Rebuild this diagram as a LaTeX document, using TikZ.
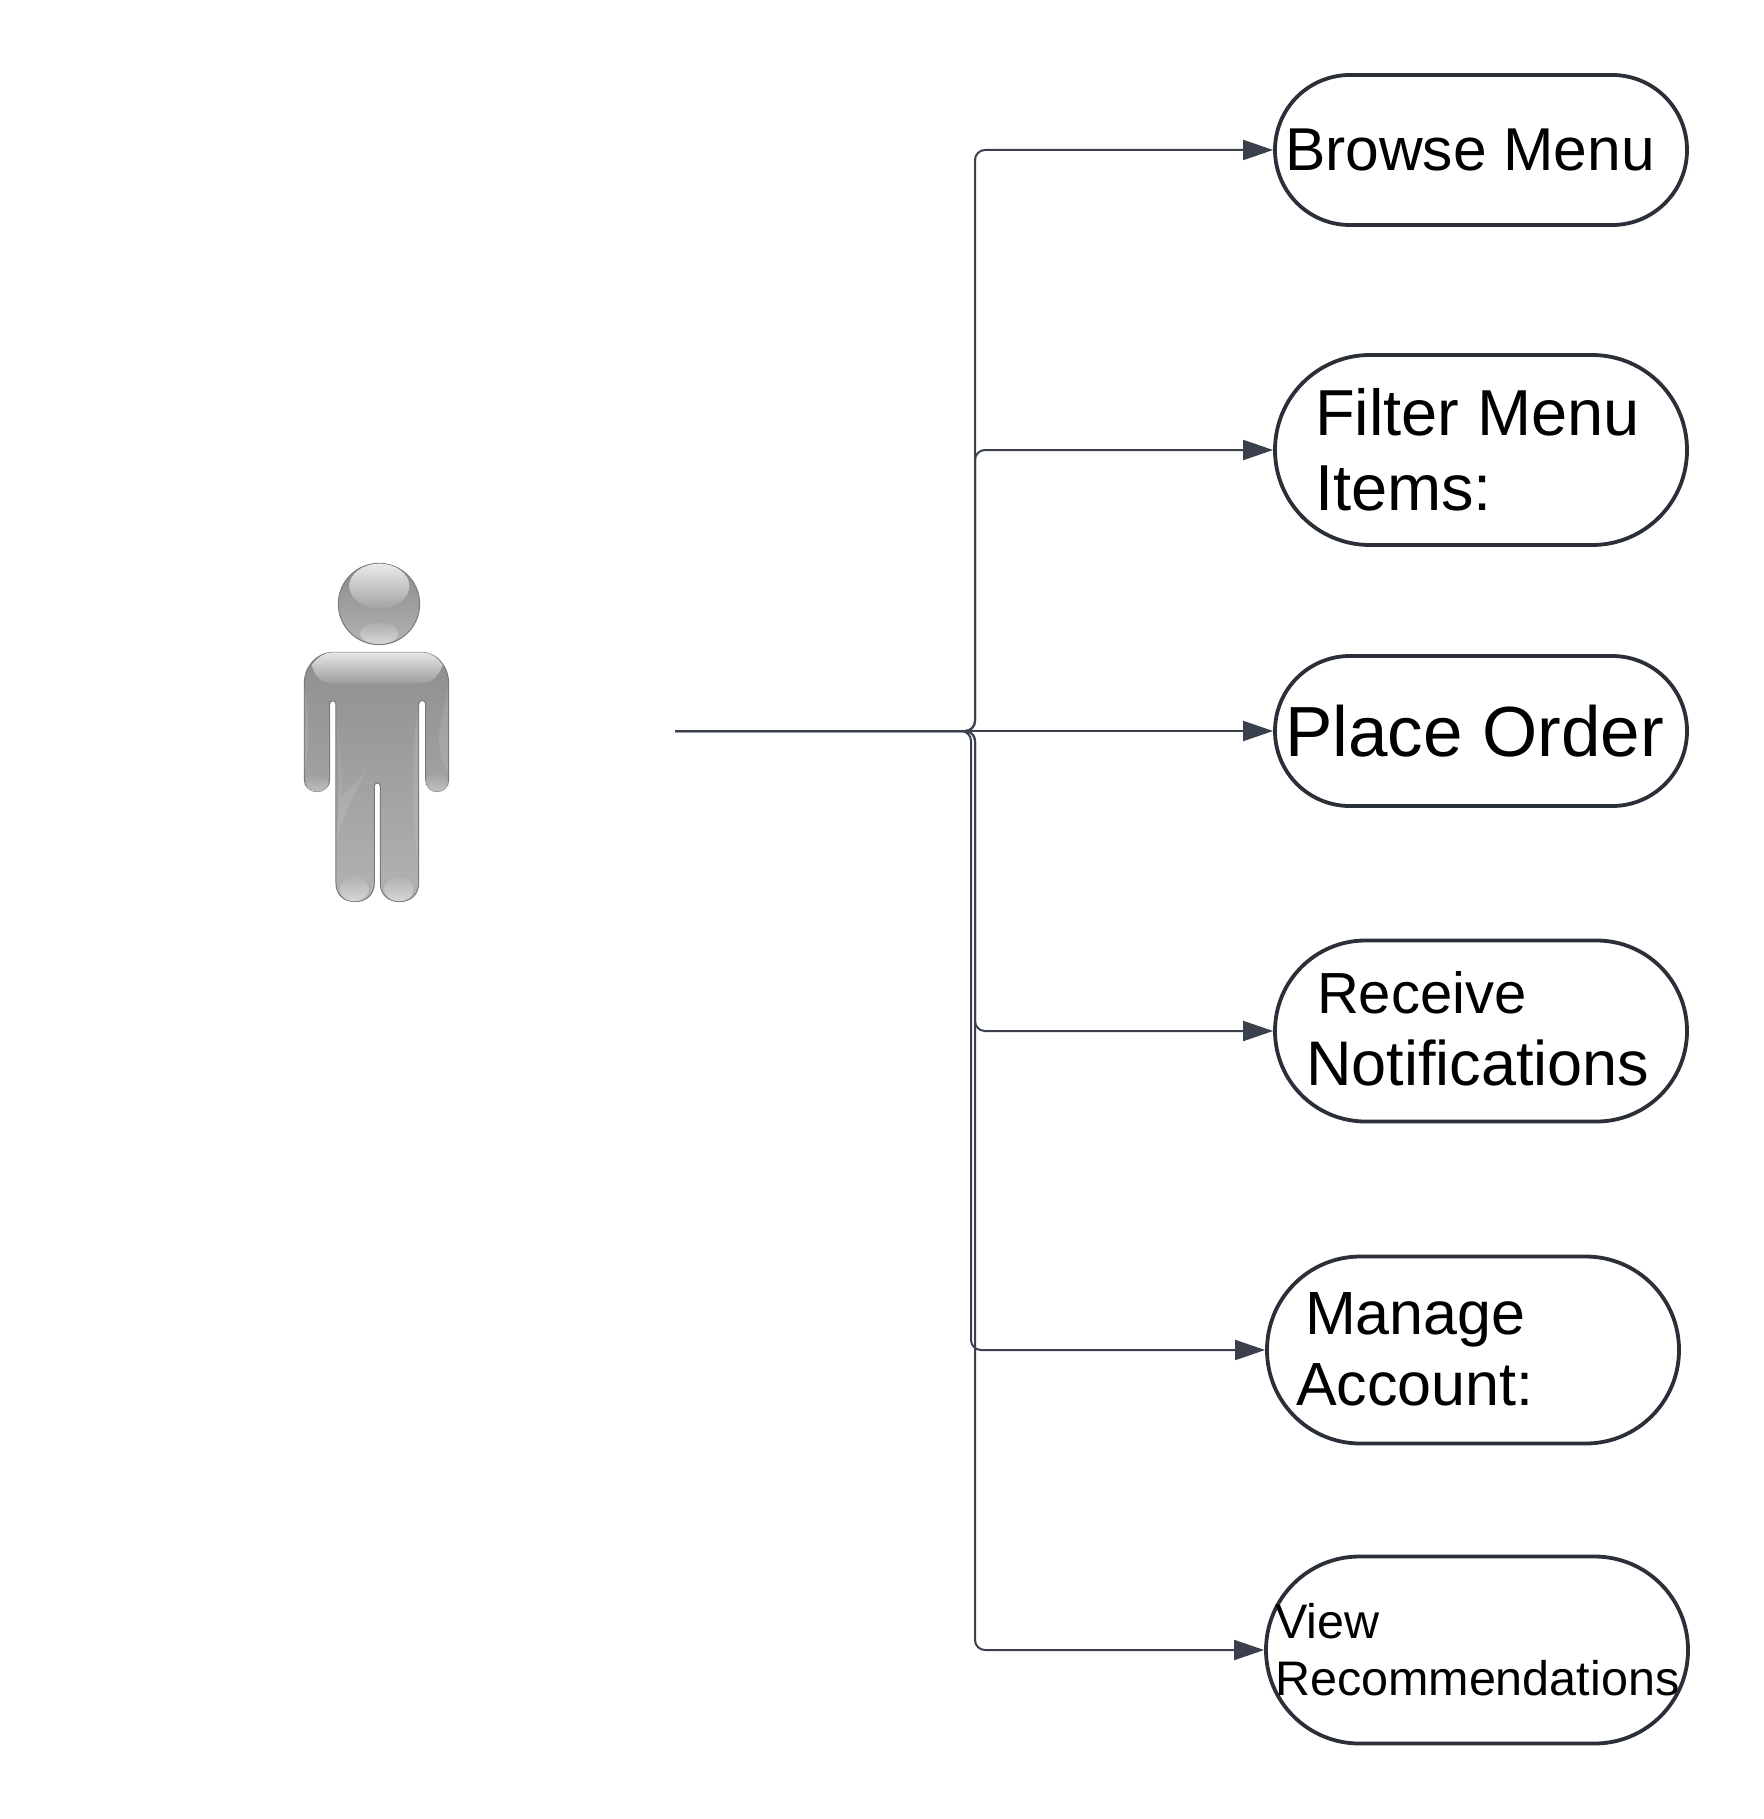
\documentclass[tikz,border=0pt]{standalone}
\usepackage{fontspec}
\setmainfont{Liberation Sans}
\usetikzlibrary{arrows.meta}
\definecolor{linec}{HTML}{3A414C}
\definecolor{pillc}{HTML}{2B3038}
\tikzset{
  x=1pt,y=-1pt,
  pill/.style={draw=pillc,line width=3.8pt,fill=white,text=black,rectangle,align=flush left,inner ysep=0pt},
  flow/.style={draw=linec,line width=2pt,rounded corners=10pt,-{Triangle[length=30pt,width=20pt]}},
  sheen/.style={fill=white,fill opacity=.10,draw=none},
}
\newcommand{\fs}[2]{\fontsize{#1}{#2}\selectfont}
\begin{document}
\begin{tikzpicture}
\useasboundingbox (0,0) rectangle (1763,1819);
\fill[white] (0,0) rectangle (1763,1819);
% person
\begin{scope}[shift={(260,530)},x=.3333pt,y=-.3333pt]
  \def\bodypath{(220,367) -- (485,367) .. controls (530,367) and (566,410) .. (566,460)
    -- (566,750) arc[start angle=0,end angle=180,x radius=34.5,y radius=35] -- (497,522)
    arc[start angle=0,end angle=-180,radius=10.5] -- (476,1060)
    .. controls (476,1095) and (450,1115) .. (418,1115) .. controls (386,1115) and (361,1095) .. (361,1060)
    -- (361,768) arc[start angle=0,end angle=-180,radius=9] -- (343,1060)
    .. controls (343,1095) and (317,1115) .. (285,1115) .. controls (253,1115) and (228,1095) .. (228,1060)
    -- (228,522) arc[start angle=0,end angle=-180,radius=9.5] -- (209,750)
    arc[start angle=0,end angle=180,x radius=38,y radius=35] -- (133,460)
    .. controls (133,410) and (170,367) .. (220,367) -- cycle}
  \shade[top color=black!44,bottom color=black!30,draw=black!52,line width=1pt] \bodypath;
  \begin{scope}
    \clip \bodypath;
    \shade[top color=black!10,bottom color=black!38]
      (155,405) .. controls (175,380) and (195,367) .. (220,367) -- (485,367)
      .. controls (510,367) and (530,380) .. (548,405)
      .. controls (535,440) and (515,460) .. (480,460) -- (215,460)
      .. controls (185,460) and (165,440) .. (155,405) -- cycle;
    \shade[top color=black!38,bottom color=black!24] (171,760) ellipse[x radius=33,y radius=30];
    \shade[top color=black!38,bottom color=black!24] (531,755) ellipse[x radius=33,y radius=30];
    \shade[top color=black!30,bottom color=black!16] (283,1077) ellipse[x radius=44,y radius=37];
    \shade[top color=black!30,bottom color=black!16] (417,1077) ellipse[x radius=44,y radius=37];
    \fill[sheen] (228,560) .. controls (240,680) and (244,780) .. (228,940) .. controls (250,850) and (290,780) .. (320,720) .. controls (290,760) and (260,780) .. (245,800) .. controls (244,720) and (240,640) .. (228,560) -- cycle;
    \fill[sheen] (476,540) .. controls (455,620) and (450,800) .. (476,1030) -- cycle;
    \fill[sheen] (133,470) .. controls (150,560) and (150,660) .. (133,730) -- cycle;
    \fill[sheen] (566,470) .. controls (550,560) and (510,640) .. (566,730) -- cycle;
  \end{scope}
  \shade[top color=black!46,bottom color=black!30,draw=black!52,line width=1pt] (357,222) circle[radius=122];
  \shade[top color=black!8,bottom color=black!36] (358,168) ellipse[x radius=90,y radius=67];
  \shade[top color=black!32,bottom color=black!16] (357,310) ellipse[x radius=58,y radius=32];
\end{scope}
% use cases
\node[pill,minimum width=412pt,minimum height=150pt,rounded corners=74.9pt,text width=392pt,inner xsep=10pt,font={\fs{60.5}{71}}] (browse) at (1481,150)
  {Browse Menu};
\node[pill,minimum width=412pt,minimum height=190pt,rounded corners=94.9pt,text width=332pt,inner xsep=40pt,font={\fs{65}{75}}] (filter) at (1481,450)
  {Filter Menu\\Items:};
\node[pill,minimum width=412pt,minimum height=150pt,rounded corners=74.9pt,text width=392pt,inner xsep=10pt,font={\fs{71}{80}}] (place) at (1481,731)
  {Place Order};
\node[pill,minimum width=412pt,minimum height=181pt,rounded corners=90.4pt,text width=350pt,inner xsep=31pt,font={\fs{63}{71}}] (receive) at (1481,1031)
  {\raisebox{7pt}{\hspace*{11pt}\fontsize{58}{71}\selectfont Receive}\\\raisebox{6pt}{Notifications}};
\node[pill,minimum width=412pt,minimum height=187pt,rounded corners=93.4pt,text width=354pt,inner xsep=29pt,font={\fs{61}{71}}] (manage) at (1473,1350)
  {\raisebox{2pt}{\hspace*{9pt}Manage}\\\raisebox{2pt}{Account:}};
\node[pill,minimum width=422pt,minimum height=187pt,rounded corners=93.4pt,text width=404pt,inner xsep=9pt,font={\fs{48.5}{57}}] (view) at (1477,1650)
  {View\\Recommendations};
% connectors
\coordinate (src) at (675,731);
\coordinate (busA) at (975,731);
\coordinate (busB) at (971,731);
\draw[flow] (src) -- (busA) |- (browse.west);
\draw[flow] (src) -- (busA) |- (filter.west);
\draw[flow] (src) -- (place.west);
\draw[flow] (src) -- (busA) |- (receive.west);
\draw[flow] (src) -- (busB) |- (manage.west);
\draw[flow] (src) -- (busA) |- (view.west);
\end{tikzpicture}
\end{document}
